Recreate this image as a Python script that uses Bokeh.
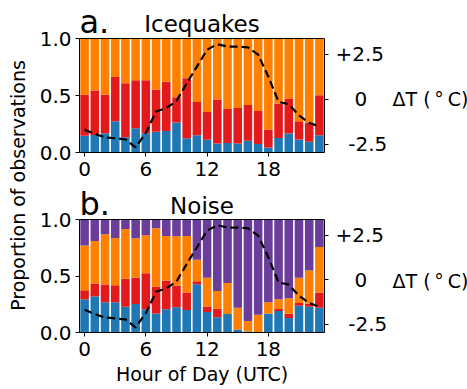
import math
from bokeh.plotting import figure
from bokeh.models import (Range1d, LinearAxis, Label, ColumnDataSource, Span,
                          FixedTicker, NumeralTickFormatter)
from bokeh.layouts import row, column
from bokeh.embed import file_html
from bokeh.resources import INLINE

# ---------------- data ----------------
hours = list(range(24))

# Icequakes: proportion of observations per class per hour
ice_blue = [0.148, 0.154, 0.169, 0.275, 0.133, 0.213, 0.169, 0.183, 0.189, 0.263, 0.124, 0.151,
            0.112, 0.080, 0.083, 0.080, 0.104, 0.074, 0.044, 0.127, 0.166, 0.115, 0.095, 0.151]
ice_red = [0.358, 0.390, 0.337, 0.388, 0.474, 0.420, 0.464, 0.370, 0.432, 0.222, 0.527, 0.293,
           0.243, 0.384, 0.299, 0.311, 0.313, 0.290, 0.157, 0.302, 0.307, 0.160, 0.168, 0.352]
ice_orange = [0.494, 0.456, 0.494, 0.337, 0.393, 0.367, 0.367, 0.447, 0.379, 0.515, 0.349, 0.556,
              0.645, 0.536, 0.618, 0.609, 0.583, 0.636, 0.799, 0.571, 0.527, 0.725, 0.737, 0.497]

# Noise: proportion of observations per class per hour
noise_blue = [0.294, 0.320, 0.267, 0.267, 0.228, 0.252, 0.205, 0.169, 0.205, 0.223, 0.199, 0.427,
              0.181, 0.134, 0.163, 0.027, 0.009, 0.003, 0.166, 0.190, 0.128, 0.237, 0.228, 0.220]
noise_red = [0.080, 0.113, 0.157, 0.151, 0.247, 0.235, 0.320, 0.235, 0.255, 0.192, 0.154, 0.027,
             0.050, 0.077, 0.000, 0.000, 0.000, 0.000, 0.000, 0.018, 0.038, 0.024, 0.027, 0.133]
noise_orange = [0.395, 0.377, 0.445, 0.419, 0.442, 0.347, 0.336, 0.519, 0.395, 0.437, 0.502, 0.190,
                0.253, 0.157, 0.276, 0.193, 0.092, 0.154, 0.101, 0.086, 0.137, 0.223, 0.294, 0.404]
noise_purple = [0.231, 0.190, 0.131, 0.163, 0.083, 0.166, 0.139, 0.077, 0.145, 0.148, 0.145, 0.356,
                0.516, 0.632, 0.561, 0.780, 0.899, 0.843, 0.733, 0.706, 0.697, 0.516, 0.451, 0.243]

# Temperature anomaly (deg C) per hour
delta_t = [-1.69, -1.93, -2.12, -2.17, -2.23, -2.68, -1.87, -0.68, -0.49, -0.10, 0.88, 1.81,
           2.75, 3.05, 2.92, 2.92, 2.88, 2.47, 1.25, -0.15, -0.28, -0.90, -1.31, -1.52]

x_ticks = [0, 6, 12, 18]
t_ticks = [-2.5, 0, 2.5]
t_labels = {-2.5: "\u00a0\u00a0-2.5", 0: "\u00a0\u00a0\u00a00", 2.5: "+2.5"}
panel_letters = ["a.", "b."]
panel_titles = ["Icequakes", "Noise"]
ylabel = "Proportion of observations"
xlabel = "Hour of Day (UTC)"
tlabel = "\u0394T (\u2009\u00b0\u2009C)"

BLUE, RED, ORANGE, PURPLE = "#1f78b4", "#e31a1c", "#ff7f00", "#6a3d9a"
FONT = "DejaVu Sans"
PW = 360          # width of the panel column
T_LO, T_HI = -2.96, 3.37   # temperature axis span over the 0..1 proportion span


def style_axis(ax, size="20px"):
    ax.axis_line_color = "black"
    ax.major_tick_line_color = "black"
    ax.minor_tick_line_color = None
    ax.major_tick_out = 4
    ax.major_tick_in = 0
    ax.major_label_text_font = FONT
    ax.major_label_text_font_size = size
    ax.major_label_text_color = "black"
    ax.axis_label_text_font = FONT
    ax.axis_label_text_font_size = "19px"
    ax.axis_label_text_color = "black"
    ax.axis_label_text_font_style = "normal"


def blank(width, height):
    f = figure(width=width, height=height, x_range=Range1d(0, width), y_range=Range1d(0, height),
               output_backend="svg", toolbar_location=None,
               min_border_left=0, min_border_right=0, min_border_top=0, min_border_bottom=0)
    f.title = None
    f.axis.visible = False
    f.grid.visible = False
    f.outline_line_color = None
    f.background_fill_color = "white"
    f.border_fill_color = "white"
    return f


def make_panel(height, bottom, box_px, series, colors, letter, title, off_l, off_t, xlab=None):
    # frame spans from the canvas top to the x axis; the 0..1 box is box_px tall
    frame_px = height - bottom
    ytop = frame_px / box_px
    p = figure(width=PW, height=height, x_range=Range1d(-0.5, 23.5), y_range=Range1d(0, ytop),
               output_backend="svg", toolbar_location=None,
               min_border_left=49, min_border_right=61,
               min_border_top=0, min_border_bottom=bottom)
    p.title = None
    p.extra_y_ranges = {"temp": Range1d(T_LO, T_LO + (T_HI - T_LO) * ytop)}
    data = {"hour": hours}
    names = []
    for i, s in enumerate(series):
        data["s%d" % i] = s
        names.append("s%d" % i)
    src = ColumnDataSource(data)
    p.vbar_stack(names, x="hour", width=0.84, color=colors, line_color=None, source=src)
    p.line(hours, delta_t, y_range_name="temp", line_color="black", line_width=2.2,
           line_dash="8 4")

    p.grid.visible = False
    p.outline_line_color = None
    p.background_fill_color = "white"
    p.border_fill_color = "white"
    p.add_layout(Span(location=1, dimension="width", line_color="black", line_width=1))

    p.xaxis.ticker = FixedTicker(ticks=x_ticks)
    p.xaxis.major_label_standoff = 5
    p.yaxis.ticker = FixedTicker(ticks=[0, 0.5, 1])
    p.yaxis.formatter = NumeralTickFormatter(format="0.0")
    p.yaxis.major_label_standoff = 4
    p.yaxis.bounds = (0, 1)
    style_axis(p.xaxis[0])
    style_axis(p.yaxis[0])
    if xlab:
        p.xaxis.axis_label = xlab
        p.xaxis.axis_label_standoff = 4

    right = LinearAxis(y_range_name="temp", ticker=FixedTicker(ticks=t_ticks),
                       major_label_overrides=t_labels, bounds=(T_LO, T_HI))
    style_axis(right)
    right.major_label_standoff = 7
    p.add_layout(right, "right")

    # y_offset in screen pixels (positive = up)
    p.add_layout(Label(x=-0.5, y=1, y_offset=off_l, text=letter, text_font=FONT,
                       text_font_size="32px", text_color="black", text_baseline="middle"))
    p.add_layout(Label(x=11.5, y=1, y_offset=off_t, text=title, text_font=FONT,
                       text_font_size="23px", text_color="black", text_align="center",
                       text_baseline="middle"))
    return p


pa = make_panel(185, 33, 114, [ice_blue, ice_red, ice_orange], [BLUE, RED, ORANGE],
                panel_letters[0], panel_titles[0], 16.9, 14.4)
pb = make_panel(204, 57, 113, [noise_blue, noise_red, noise_orange, noise_purple],
                [BLUE, RED, ORANGE, PURPLE], panel_letters[1], panel_titles[1], 15.9, 13.1,
                xlab=xlabel)

lab = blank(30, 389)
lab.add_layout(Label(x=17, y=389 - 185, text=ylabel, angle=math.pi / 2,
                     text_font=FONT, text_font_size="19px", text_color="black",
                     text_align="center", text_baseline="middle"))

rt = blank(77, 389)
for yc in (389 - 98, 389 - 280):
    rt.add_layout(Label(x=2, y=yc, text=tlabel, text_font=FONT, text_font_size="19px",
                        text_color="black", text_baseline="middle"))

layout = row(lab, column(pa, pb), rt)
open("out.html", "w").write(file_html(layout, INLINE))
